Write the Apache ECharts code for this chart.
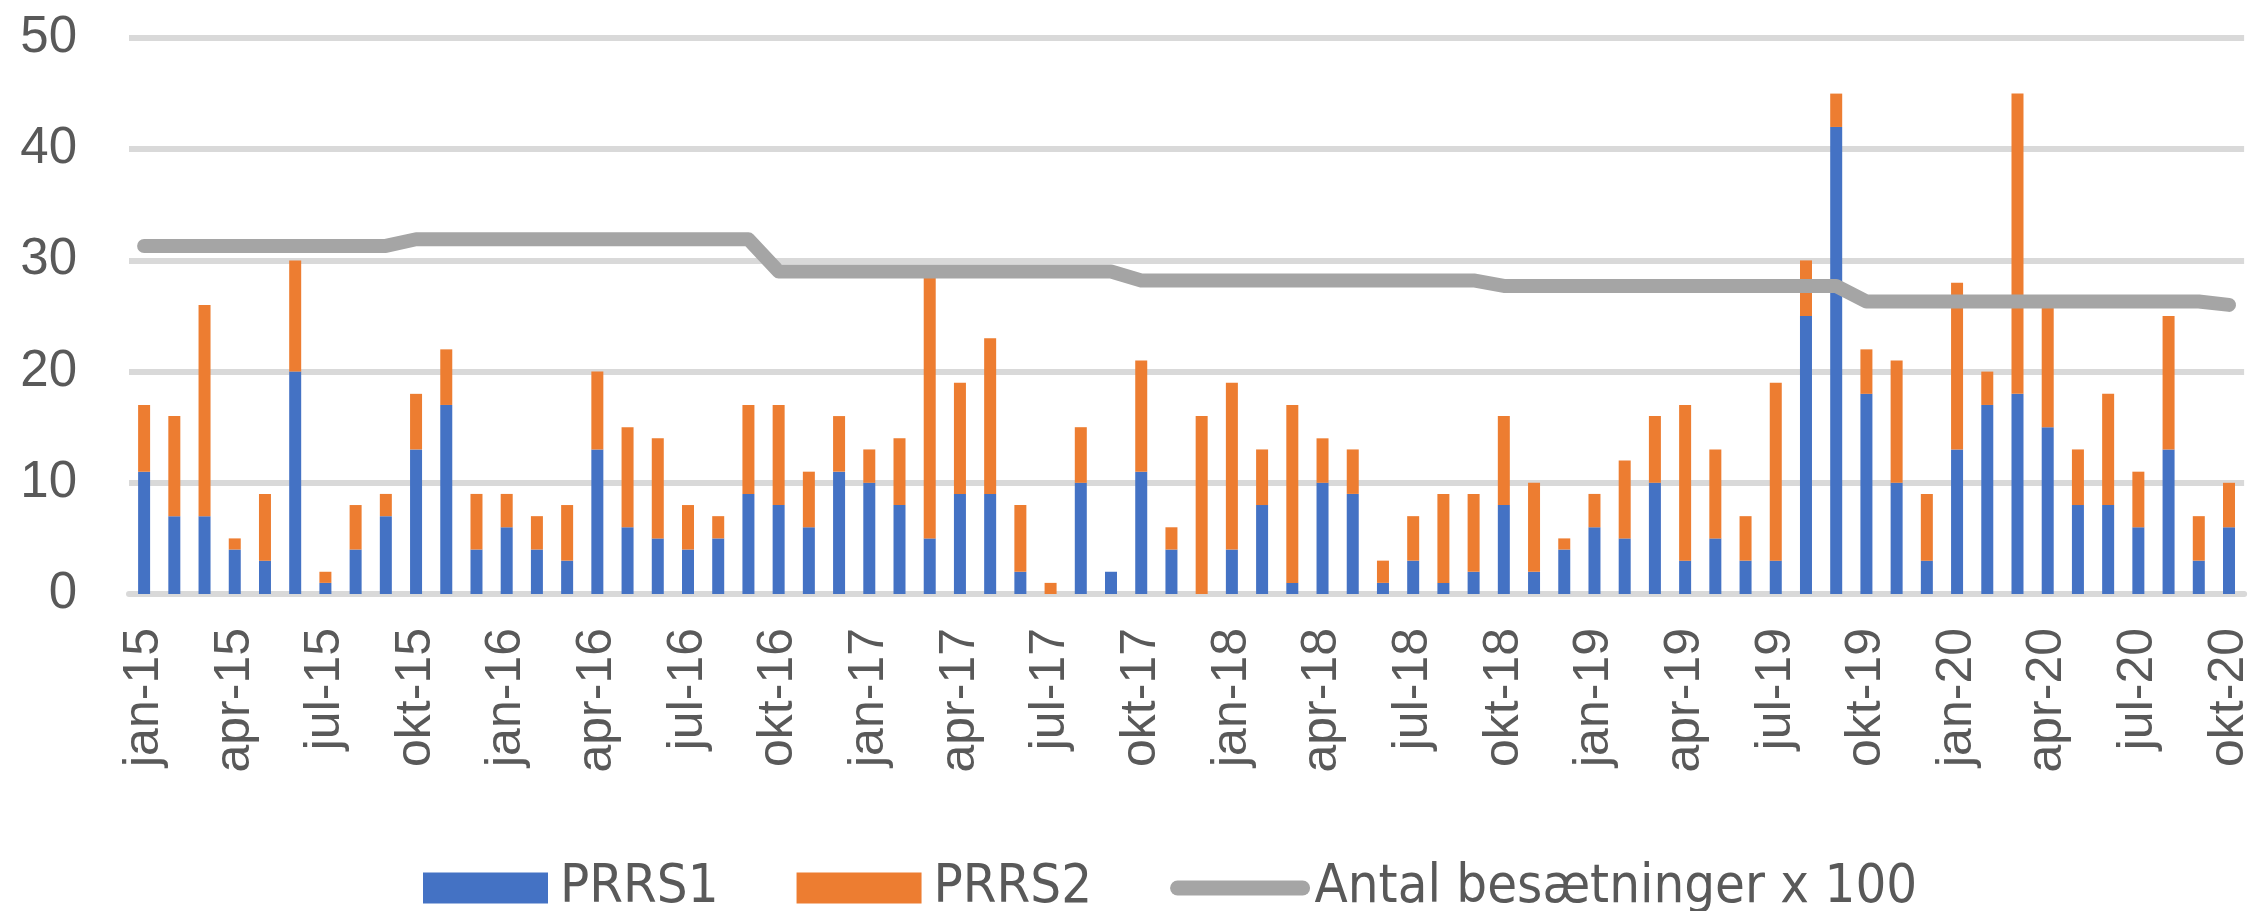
<!DOCTYPE html>
<html>
<head>
<meta charset="utf-8">
<title>PRRS</title>
<script src="https://cdn.jsdelivr.net/npm/echarts@6/dist/echarts.min.js"></script>
<style>
  html, body { margin: 0; padding: 0; background: #fff; }
  #chart { width: 2254px; height: 911px; }
</style>
</head>
<body>
<div id="chart"></div>
<script>
// month labels, jan-15 .. okt-20
const monthNames = ['jan', 'feb', 'mar', 'apr', 'maj', 'jun', 'jul', 'aug', 'sep', 'okt', 'nov', 'dec'];
const years = ['15', '16', '17', '18', '19', '20'];
const months = [];
years.forEach(y => monthNames.forEach(m => months.push(m + '-' + y)));
months.length = 70;

const prrs1 = [11, 7, 7, 4, 3, 20, 1, 4, 7, 13, 17, 4,
    6, 4, 3, 13, 6, 5, 4, 5, 9, 8, 6, 11,
    10, 8, 5, 9, 9, 2, 0, 10, 2, 11, 4, 0,
    4, 8, 1, 10, 9, 1, 3, 1, 2, 8, 2, 4,
    6, 5, 10, 3, 5, 3, 3, 25, 42, 18, 10, 3,
    13, 17, 18, 15, 8, 8, 6, 13, 3, 6];

const prrs2 = [6, 9, 19, 1, 6, 10, 1, 4, 2, 5, 5, 5,
    3, 3, 5, 7, 9, 9, 4, 2, 8, 9, 5, 5,
    3, 6, 24, 10, 14, 6, 1, 5, 0, 10, 2, 16,
    15, 5, 16, 4, 4, 2, 4, 8, 7, 8, 8, 1,
    3, 7, 6, 14, 8, 4, 16, 5, 3, 4, 11, 6,
    15, 3, 27, 11, 5, 10, 5, 12, 4, 4];

// antal besaetninger / 100
const besaetninger = [31.3, 31.3, 31.3, 31.3, 31.3, 31.3, 31.3, 31.3, 31.3, 31.9, 31.9, 31.9,
    31.9, 31.9, 31.9, 31.9, 31.9, 31.9, 31.9, 31.9, 31.9, 29.0, 29.0, 29.0,
    29.0, 29.0, 29.0, 29.0, 29.0, 29.0, 29.0, 29.0, 29.0, 28.2, 28.2, 28.2,
    28.2, 28.2, 28.2, 28.2, 28.2, 28.2, 28.2, 28.2, 28.2, 27.7, 27.7, 27.7,
    27.7, 27.7, 27.7, 27.7, 27.7, 27.7, 27.7, 27.7, 27.7, 26.3, 26.3, 26.3,
    26.3, 26.3, 26.3, 26.3, 26.3, 26.3, 26.3, 26.3, 26.3, 26.0];

const gridColor = '#d9d9d9';
const textColor = '#595959';
const lineColor = '#a5a5a5';

const myChart = echarts.init(document.getElementById('chart'));
const option = {
    animation: false,
    grid: { left: 129, right: 9, top: 38, bottom: 317 },
    legend: {
        top: 861,
        left: 423,
        padding: 0,
        itemWidth: 125,
        itemHeight: 31,
        itemGap: 78,
        textStyle: {
            fontFamily: '"Liberation Sans Narrow", "DejaVu Sans Condensed", sans-serif',
            fontSize: 54,
            color: textColor,
            padding: [0, 0, 0, 7]
        },
        data: [
            { name: 'PRRS1', icon: 'rect' },
            { name: 'PRRS2', icon: 'rect' },
            {
                name: 'Antal besætninger x 100',
                itemStyle: { opacity: 0 },
                lineStyle: { color: lineColor, width: 15, cap: 'round' }
            }
        ]
    },
    xAxis: {
        type: 'category',
        data: months,
        axisLine: { lineStyle: { color: gridColor, width: 6 } },
        axisTick: { interval: 2, length: 18, lineStyle: { color: gridColor, width: 5 } },
        axisLabel: {
            interval: 2,
            rotate: 90,
            margin: 34,
            fontFamily: '"Liberation Sans", sans-serif',
            fontSize: 50,
            color: textColor
        }
    },
    yAxis: {
        type: 'value',
        min: 0,
        max: 50,
        interval: 10,
        axisLine: { show: false },
        axisTick: { show: false },
        splitLine: { lineStyle: { color: gridColor, width: 6 } },
        axisLabel: {
            margin: 52,
            fontFamily: '"Liberation Sans", sans-serif',
            fontSize: 51,
            color: textColor
        }
    },
    series: [
        {
            name: 'PRRS1',
            type: 'bar',
            stack: 'prrs',
            barWidth: 12,
            itemStyle: { color: '#4472c4' },
            data: prrs1
        },
        {
            name: 'PRRS2',
            type: 'bar',
            stack: 'prrs',
            barWidth: 12,
            itemStyle: { color: '#ed7d31' },
            data: prrs2
        },
        {
            name: 'Antal besætninger x 100',
            type: 'line',
            symbol: 'none',
            lineStyle: { color: lineColor, width: 14, cap: 'round', join: 'round' },
            itemStyle: { color: lineColor },
            data: besaetninger
        }
    ]
};
option && myChart.setOption(option);
</script>
</body>
</html>
